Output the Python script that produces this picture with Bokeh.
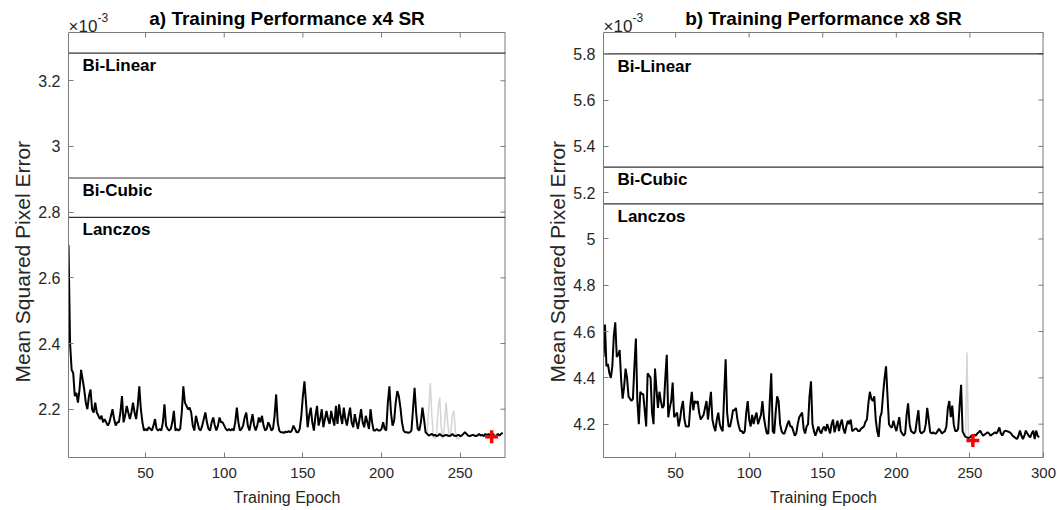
import math
from bokeh.plotting import figure
from bokeh.models import Range1d, FixedTicker, CustomJSTickFormatter, Span, Label, Title
from bokeh.layouts import row
from bokeh.embed import file_html
from bokeh.resources import INLINE
from bokeh.core.properties import value

# ---------------- data (MSE in units of 1e-3) ----------------
baseline_names = ["Bi-Linear", "Bi-Cubic", "Lanczos"]

mse_x4 = [
    2.70, 2.40, 2.32, 2.31, 2.24, 2.25, 2.22, 2.26, 2.32, 2.29,
    2.26, 2.22, 2.20, 2.24, 2.26, 2.20, 2.19, 2.22, 2.19, 2.18,
    2.17, 2.18, 2.16, 2.17, 2.16, 2.15, 2.16, 2.18, 2.20, 2.17,
    2.15, 2.16, 2.16, 2.19, 2.24, 2.16, 2.18, 2.21, 2.19, 2.17,
    2.19, 2.22, 2.19, 2.17, 2.21, 2.27, 2.20, 2.16, 2.135, 2.14,
    2.135, 2.145, 2.14, 2.135, 2.15, 2.17, 2.14, 2.135, 2.14, 2.135,
    2.16, 2.215, 2.15, 2.14, 2.135, 2.14, 2.16, 2.195, 2.135, 2.14,
    2.135, 2.14, 2.19, 2.27, 2.22, 2.21, 2.20, 2.205, 2.19, 2.15,
    2.135, 2.18, 2.16, 2.14, 2.135, 2.15, 2.17, 2.19, 2.16, 2.14,
    2.135, 2.16, 2.175, 2.15, 2.135, 2.15, 2.175, 2.16, 2.16, 2.15,
    2.14, 2.135, 2.14, 2.135, 2.14, 2.135, 2.16, 2.205, 2.16, 2.135,
    2.14, 2.15, 2.175, 2.19, 2.15, 2.135, 2.16, 2.185, 2.15, 2.135,
    2.15, 2.175, 2.16, 2.18, 2.15, 2.135, 2.14, 2.16, 2.15, 2.135,
    2.14, 2.18, 2.245, 2.16, 2.135, 2.13, 2.13, 2.128, 2.132, 2.13,
    2.134, 2.13, 2.135, 2.15, 2.14, 2.13, 2.13, 2.14, 2.18, 2.24,
    2.285, 2.22, 2.145, 2.18, 2.205, 2.16, 2.135, 2.18, 2.21, 2.15,
    2.17, 2.20, 2.145, 2.17, 2.195, 2.17, 2.155, 2.195, 2.17, 2.15,
    2.21, 2.155, 2.215, 2.18, 2.155, 2.205, 2.17, 2.15, 2.18, 2.205,
    2.16, 2.145, 2.185, 2.16, 2.14, 2.17, 2.20, 2.16, 2.145, 2.18,
    2.16, 2.14, 2.20, 2.16, 2.135, 2.135, 2.14, 2.135, 2.135, 2.14,
    2.16, 2.14, 2.135, 2.22, 2.27, 2.19, 2.15, 2.165, 2.22, 2.255,
    2.24, 2.205, 2.16, 2.135, 2.13, 2.13, 2.128, 2.13, 2.135, 2.20,
    2.265, 2.19, 2.14, 2.135, 2.16, 2.205, 2.17, 2.13, 2.125, 2.12,
    2.122, 2.125, 2.12, 2.122, 2.118, 2.12, 2.125, 2.12, 2.118, 2.12,
    2.122, 2.12, 2.118, 2.12, 2.125, 2.12, 2.118, 2.12, 2.122, 2.118,
    2.12, 2.125, 2.13, 2.125, 2.12, 2.118, 2.12, 2.122, 2.12, 2.118,
    2.12, 2.125, 2.12, 2.122, 2.118, 2.125, 2.12, 2.125, 2.118, 2.12,
    2.125, 2.115, 2.12, 2.125, 2.12, 2.125, 2.128,
]
grey_x4_start = 228
grey_x4 = [2.13, 2.125, 2.20, 2.28, 2.18, 2.115, 2.11, 2.13, 2.20, 2.235,
           2.14, 2.11, 2.15, 2.22, 2.16, 2.12, 2.13, 2.18, 2.195, 2.13,
           2.11, 2.11, 2.115]
best_x4_epoch = [270]
best_x4_mse = [2.116]
baselines_x4 = [3.284, 2.904, 2.784]
xticks_x4 = [50, 100, 150, 200, 250]
yticks_x4 = [2.2, 2.4, 2.6, 2.8, 3.0, 3.2]

mse_x8 = [
    4.49, 4.63, 4.45, 4.46, 4.42, 4.40, 4.45, 4.58, 4.64, 4.49,
    4.50, 4.52, 4.39, 4.31, 4.36, 4.44, 4.40, 4.32, 4.31, 4.30,
    4.31, 4.45, 4.57, 4.30, 4.20, 4.34, 4.33, 4.33, 4.26, 4.19,
    4.42, 4.41, 4.40, 4.25, 4.20, 4.44, 4.35, 4.27, 4.34, 4.30,
    4.27, 4.28, 4.40, 4.50, 4.23, 4.27, 4.30, 4.38, 4.23, 4.24,
    4.25, 4.19, 4.22, 4.27, 4.30, 4.22, 4.19, 4.19, 4.19, 4.28,
    4.34, 4.26, 4.30, 4.29, 4.30, 4.25, 4.22, 4.23, 4.24, 4.27,
    4.30, 4.22, 4.28, 4.34, 4.22, 4.19, 4.17, 4.22, 4.25, 4.20,
    4.18, 4.17, 4.33, 4.48, 4.25, 4.19, 4.19, 4.22, 4.26, 4.26,
    4.27, 4.22, 4.19, 4.17, 4.17, 4.16, 4.17, 4.25, 4.30, 4.22,
    4.19, 4.24, 4.20, 4.23, 4.25, 4.20, 4.22, 4.24, 4.30, 4.23,
    4.19, 4.16, 4.16, 4.30, 4.42, 4.17, 4.16, 4.25, 4.32, 4.30,
    4.20, 4.17, 4.16, 4.16, 4.18, 4.20, 4.215, 4.19, 4.19, 4.17,
    4.15, 4.16, 4.20, 4.23, 4.24, 4.25, 4.18, 4.16, 4.19, 4.20,
    4.32, 4.385, 4.20, 4.17, 4.15, 4.17, 4.19, 4.17, 4.16, 4.18,
    4.19, 4.17, 4.20, 4.18, 4.16, 4.20, 4.22, 4.165, 4.19, 4.215,
    4.17, 4.20, 4.22, 4.18, 4.16, 4.19, 4.215, 4.20, 4.22, 4.17,
    4.175, 4.18, 4.18, 4.17, 4.17, 4.18, 4.185, 4.19, 4.21, 4.22,
    4.29, 4.34, 4.31, 4.30, 4.32, 4.22, 4.17, 4.145, 4.23, 4.25,
    4.33, 4.40, 4.45, 4.32, 4.20, 4.19, 4.185, 4.215, 4.19, 4.17,
    4.20, 4.23, 4.17, 4.16, 4.15, 4.16, 4.24, 4.29, 4.20, 4.17,
    4.165, 4.16, 4.17, 4.22, 4.26, 4.17, 4.16, 4.165, 4.17, 4.20,
    4.27, 4.22, 4.165, 4.16, 4.165, 4.16, 4.16, 4.17, 4.18, 4.17,
    4.16, 4.165, 4.17, 4.19, 4.27, 4.30, 4.23, 4.28, 4.20, 4.17,
    4.17, 4.18, 4.28, 4.37, 4.17, 4.155, 4.145, 4.143, 4.14, 4.143,
    4.15, 4.145, 4.155, 4.15, 4.16, 4.165, 4.172, 4.16, 4.15, 4.155,
    4.16, 4.165, 4.16, 4.15, 4.155, 4.16, 4.165, 4.16, 4.17, 4.186,
    4.16, 4.151, 4.165, 4.172, 4.17, 4.168, 4.165, 4.16, 4.15, 4.145,
    4.14, 4.136, 4.15, 4.172, 4.15, 4.136, 4.15, 4.172, 4.16, 4.15,
    4.143, 4.16, 4.172, 4.136, 4.172, 4.15, 4.143,
]
grey_x8_start = 247
grey_x8 = [4.143, 4.51, 4.14]
best_x8_epoch = [252]
best_x8_mse = [4.129]
baselines_x8 = [5.80, 5.31, 5.152]
xticks_x8 = [50, 100, 150, 200, 250, 300]
yticks_x8 = [4.2, 4.4, 4.6, 4.8, 5.0, 5.2, 5.4, 5.6, 5.8]

FONT = "Liberation Sans"
AX = "#262626"
BOX = "#7a7a7a"
BOX_TOP = 32      # px from top of page to top of axes box
BOX_H = 425       # px height of axes box

fmt = CustomJSTickFormatter(code="return String(Math.round(tick*10)/10);")


def panel(title, mse, grey_start, grey, best_e, best_v, baselines,
          xr, yr, xticks, yticks, width, left, right):
    y0, y1 = yr
    x0, x1 = xr
    # frame reaches the top of the page; the box is drawn inside it
    y_top = y1 + (y1 - y0) * BOX_TOP / BOX_H
    p = figure(width=width, height=510, x_range=Range1d(x0, x1), y_range=Range1d(y0, y_top),
               output_backend="svg", toolbar_location=None, tools="",
               min_border_left=left, min_border_right=right,
               min_border_top=0, min_border_bottom=510 - BOX_TOP - BOX_H)
    p.background_fill_color = "white"
    p.border_fill_color = "white"
    p.outline_line_color = None
    p.grid.visible = False

    xa, ya = p.xaxis[0], p.yaxis[0]
    for ax in (xa, ya):
        ax.major_label_text_font = FONT
        ax.major_label_text_color = AX
        ax.axis_label_text_font = FONT
        ax.axis_label_text_font_style = "normal"
        ax.axis_label_text_color = AX
        ax.axis_line_color = BOX
        ax.major_tick_line_color = BOX
        ax.major_tick_in = 5
        ax.major_tick_out = 0
        ax.minor_tick_line_color = None
        ax.formatter = fmt
    xa.ticker = FixedTicker(ticks=xticks)
    ya.ticker = FixedTicker(ticks=yticks)
    ya.bounds = (y0, y1)
    xa.axis_label = "Training Epoch"
    xa.major_label_text_font_size = "15px"
    ya.major_label_text_font_size = "16px"
    xa.axis_label_text_font_size = "16px"
    xa.major_label_standoff = 10
    xa.axis_label_standoff = 8
    ya.major_label_standoff = 8

    # y label as a side title so that it can be centred on the box, not the frame
    p.add_layout(Title(text="Mean Squared Pixel Error", align="left", offset=75,
                       text_font=FONT, text_font_size="21px", text_font_style="normal",
                       text_color=AX, standoff=4), "left")

    # top and right edges of the box, with inward ticks
    p.add_layout(Span(location=y1, dimension="width", line_color=BOX, line_width=1))
    p.segment(x0=[x1], y0=[y0], x1=[x1], y1=[y1], line_color=BOX, line_width=2)
    p.ray(x=xticks, y=[y1] * len(xticks), length=5, length_units="screen",
          angle=-math.pi / 2, line_color=BOX, line_width=1)
    p.ray(x=[x1] * len(yticks), y=yticks, length=5, length_units="screen",
          angle=math.pi, line_color=BOX, line_width=1)

    for v in baselines:
        p.segment(x0=[x0], y0=[v], x1=[x1], y1=[v], line_color="#333333", line_width=1.2)
    p.text(x=[x0] * len(baselines), y=baselines, text=baseline_names,
           x_offset=14, y_offset=3, text_baseline="top", text_align="left",
           text_font=value(FONT), text_font_style="bold", text_font_size="17px",
           text_color="black")

    gx = list(range(grey_start, grey_start + len(grey)))
    p.line(gx, grey, line_color="#d4d4d4", line_width=1.5)
    ex = list(range(1, len(mse) + 1))
    p.line(ex, mse, line_color="black", line_width=2)
    p.scatter(best_e, best_v, marker="cross", size=13, line_color="red", line_width=3.5)

    # title and exponent, above the box
    p.add_layout(Label(x=(x0 + x1) / 2, y=y1, text=title, text_font=FONT,
                       text_font_size="19px", text_font_style="bold", text_color="black",
                       text_align="center", text_baseline="alphabetic", y_offset=14))
    p.text(x=[x0], y=[y1], text=["×10"], x_offset=0, y_offset=-6,
           text_baseline="alphabetic", text_align="left",
           text_font=value(FONT), text_font_size="17px", text_color=AX)
    p.text(x=[x0], y=[y1], text=["-3"], x_offset=29, y_offset=-15,
           text_baseline="alphabetic", text_align="left",
           text_font=value(FONT), text_font_size="12px", text_color=AX)
    return p


p1 = panel("a) Training Performance x4 SR", mse_x4, grey_x4_start, grey_x4,
           best_x4_epoch, best_x4_mse, baselines_x4,
           (1, 278.8), (2.053, 3.347), xticks_x4, yticks_x4, 540, 68, 35)
p2 = panel("b) Training Performance x8 SR", mse_x8, grey_x8_start, grey_x8,
           best_x8_epoch, best_x8_mse, baselines_x8,
           (1, 300), (4.056, 5.892), xticks_x8, yticks_x8, 517, 63, 14)

layout = row(p1, p2)
open("out.html", "w").write(file_html(layout, INLINE))
